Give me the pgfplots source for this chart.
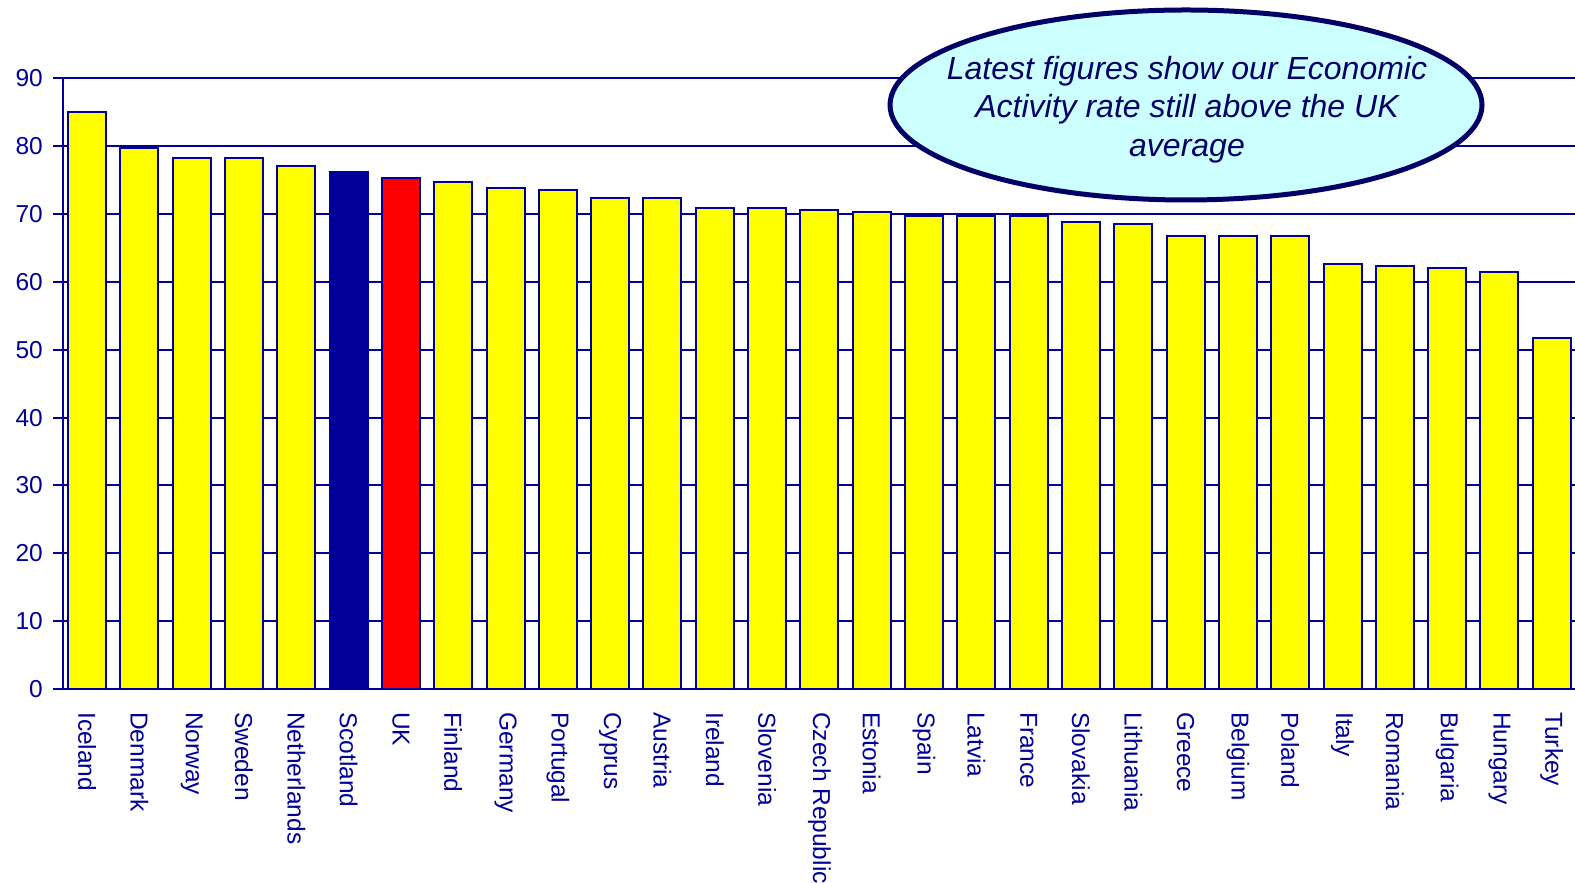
\documentclass[border=0pt]{standalone}
\usepackage{pgfplots}
\pgfplotsset{compat=1.18}
\usepackage{fontspec}
\setmainfont{Liberation Sans}
\definecolor{navy}{RGB}{0,0,153}
\definecolor{dnavy}{RGB}{0,0,102}
\definecolor{barY}{RGB}{255,255,0}
\definecolor{barR}{RGB}{255,0,0}
\definecolor{bubble}{RGB}{204,255,255}
\begin{document}
\begin{tikzpicture}[x=1bp,y=1bp]
\useasboundingbox (0,0) rectangle (1575,882);
\clip (0,0) rectangle (1575,882);
\begin{axis}[
  at={(63bp,193bp)}, anchor=south west,
  scale only axis, width=1517bp, height=610.6bp,
  xmin=-0.46, xmax=28.54, ymin=0, ymax=90,
  axis x line*=bottom, axis y line*=left,
  axis line style={draw=navy, line width=2.4bp},
  ytick={0,10,...,90},
  ymajorgrids, grid style={draw=navy, line width=2bp},
  tick align=outside,
  major tick length=10bp,
  major y tick style={draw=navy, line width=2bp},
  major x tick style={draw=none},
  xtick={0,...,28},
  xticklabels={Iceland,Denmark,Norway,Sweden,Netherlands,Scotland,UK,Finland,Germany,Portugal,Cyprus,Austria,Ireland,Slovenia,Czech Republic,Estonia,Spain,Latvia,France,Slovakia,Lithuania,Greece,Belgium,Poland,Italy,Romania,Bulgaria,Hungary,Turkey},
  xticklabel style={rotate=-90, anchor=west, inner sep=0pt, font=\fontsize{24.5bp}{28bp}\selectfont, text=navy},
  xticklabel shift=13bp,
  yticklabel style={anchor=east, inner sep=0pt, xshift=-10bp, font=\fontsize{24.5bp}{28bp}\selectfont, text=navy},
  /pgf/number format/assume math mode=true,
  ybar, bar width=38bp, bar shift=0pt,
  clip=false,
]
\addplot[fill=barY, draw=navy, line width=2bp] coordinates {
(0,85.0) (1,79.7) (2,78.2) (3,78.2) (4,77.1)
(7,74.7) (8,73.8) (9,73.5) (10,72.4) (11,72.4) (12,70.9) (13,70.9) (14,70.6) (15,70.3)
(16,69.7) (17,69.7) (18,69.7) (19,68.9) (20,68.5) (21,66.8) (22,66.8) (23,66.8)
(24,62.7) (25,62.4) (26,62.1) (27,61.5) (28,51.8)
};
\addplot[fill=navy, draw=navy, line width=2bp] coordinates {(5,76.2)};
\addplot[fill=barR, draw=navy, line width=2bp] coordinates {(6,75.3)};
\end{axis}
\draw[draw=dnavy, fill=bubble, line width=5bp] (1186,777) ellipse [x radius=296, y radius=95];
\node[align=center, text=dnavy, font=\fontsize{32bp}{38.3bp}\selectfont\itshape, inner sep=0pt] at (1187,772.5)
  {Latest figures show our Economic\\Activity rate still above the UK\\average};
\end{tikzpicture}
\end{document}
